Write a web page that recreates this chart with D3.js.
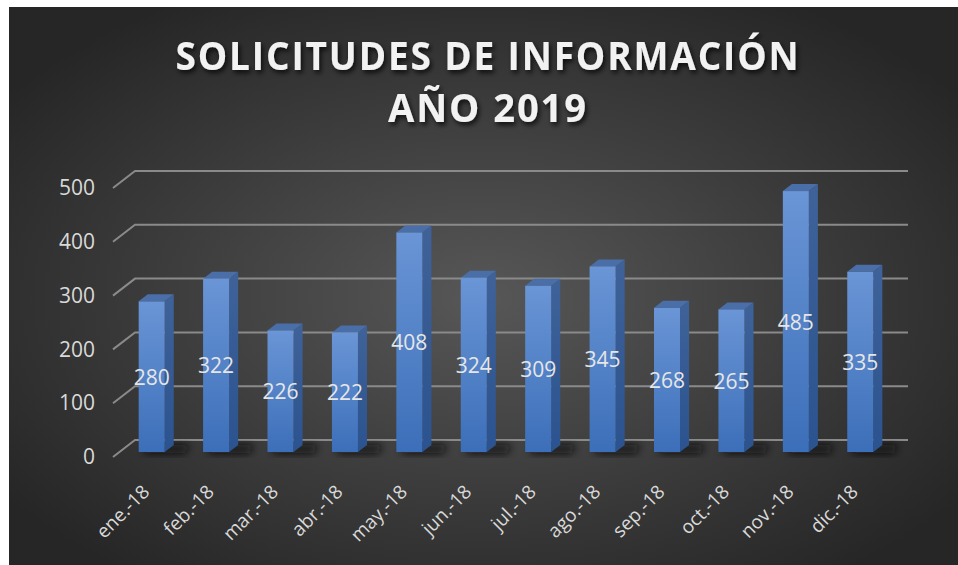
<!DOCTYPE html>
<html>
<head>
<meta charset="utf-8">
<script src="https://cdn.jsdelivr.net/npm/d3@7/dist/d3.min.js"></script>
<style>
  html, body { margin: 0; padding: 0; background: #fff; }
  svg { display: block; }
</style>
</head>
<body>
<svg id="chart"></svg>
<script>
// data
const months = ["ene.-18", "feb.-18", "mar.-18", "abr.-18", "may.-18", "jun.-18",
  "jul.-18", "ago.-18", "sep.-18", "oct.-18", "nov.-18", "dic.-18"];
const values = [280, 322, 226, 222, 408, 324, 309, 345, 268, 265, 485, 335];
const yTicks = [0, 100, 200, 300, 400, 500];
const titleLines = ["SOLICITUDES DE INFORMACIÓN", "AÑO 2019"];

const W = 958, H = 565;
const svg = d3.select("#chart").attr("width", W).attr("height", H);
const defs = svg.append("defs");

// oblique "3D": full depth vector from back wall to front edge
const DX = -22, DY = 17;
const dFront = 0.706, dBack = 0.294; // bar faces, as fraction of full depth

// back wall scales
const x = d3.scaleBand().domain(months).range([135, 908]);
const y = d3.scaleLinear().domain([0, 500]).range([440, 171]);
// band scale on the bars' front plane (for the category axis)
const xFront = d3.scaleBand().domain(months).range([135 + DX * dFront, 908 + DX * dFront]);

const barW = 26;

function P(px, v, d) {
  return [px + DX * d, y(v) + DY * d];
}

// background
const bg = defs.append("radialGradient").attr("id", "bg")
  .attr("cx", "50%").attr("cy", "52%").attr("r", "62%");
bg.append("stop").attr("offset", "0%").attr("stop-color", "#575757");
bg.append("stop").attr("offset", "100%").attr("stop-color", "#262626");
svg.append("rect").attr("x", 9).attr("y", 7).attr("width", W - 9).attr("height", H - 7)
  .attr("fill", "url(#bg)");

const front = defs.append("linearGradient").attr("id", "front")
  .attr("x1", 0).attr("y1", 0).attr("x2", 0).attr("y2", 1);
front.append("stop").attr("offset", "0%").attr("stop-color", "#6a95d6");
front.append("stop").attr("offset", "100%").attr("stop-color", "#3c6fb9");

const side = defs.append("linearGradient").attr("id", "side")
  .attr("x1", 0).attr("y1", 0).attr("x2", 0).attr("y2", 1);
side.append("stop").attr("offset", "0%").attr("stop-color", "#3f6299");
side.append("stop").attr("offset", "100%").attr("stop-color", "#2b538f");

defs.append("filter").attr("id", "blur").attr("x", "-50%").attr("y", "-50%")
  .attr("width", "200%").attr("height", "200%")
  .append("feGaussianBlur").attr("stdDeviation", 4);

const ts = defs.append("filter").attr("id", "tshadow").attr("x", "-10%").attr("y", "-30%")
  .attr("width", "120%").attr("height", "160%");
ts.append("feDropShadow").attr("dx", 2).attr("dy", 3).attr("stdDeviation", 2.5)
  .attr("flood-color", "#000").attr("flood-opacity", 0.75);

// gridlines: back wall + left wall diagonal
const grid = svg.append("g").attr("stroke", "#8a8a8a").attr("stroke-width", 2).attr("fill", "none");
grid.selectAll("path").data(yTicks).join("path")
  .attr("d", v => {
    const a = P(135, v, 1), b = P(135, v, 0), c = P(908, v, 0);
    return "M" + a + "L" + b + "L" + c;
  });

// shadow on the floor under each bar
svg.append("g").attr("filter", "url(#blur)")
  .selectAll("path").data(months).join("path")
  .attr("fill", "#111").attr("opacity", 0.9)
  .attr("d", m => {
    const cx = x(m) + x.bandwidth() / 2;
    const a = P(cx - barW / 2 + 6, 0, dFront + 0.08), b = P(cx + barW / 2 + 22, 0, dFront + 0.08);
    const c = P(cx + barW / 2 + 16, 0, dBack), e = P(cx - barW / 2, 0, dBack);
    return "M" + a + "L" + b + "L" + c + "L" + e + "Z";
  });

// bars
const bars = svg.append("g").selectAll("g").data(months).join("g");
bars.each(function (m, i) {
  const g = d3.select(this);
  const v = values[i];
  const cx = x(m) + x.bandwidth() / 2;
  const l = cx - barW / 2, r = cx + barW / 2;
  const fl0 = P(l, 0, dFront), fr0 = P(r, 0, dFront), fl1 = P(l, v, dFront), fr1 = P(r, v, dFront);
  const br0 = P(r, 0, dBack), bl1 = P(l, v, dBack), br1 = P(r, v, dBack);
  g.append("path").attr("fill", "url(#side)")
    .attr("d", "M" + fr0 + "L" + br0 + "L" + br1 + "L" + fr1 + "Z");
  g.append("path").attr("fill", "#4a6ea7")
    .attr("d", "M" + fl1 + "L" + fr1 + "L" + br1 + "L" + bl1 + "Z");
  g.append("rect").attr("fill", "url(#front)")
    .attr("x", fl1[0]).attr("y", fl1[1]).attr("width", barW).attr("height", fl0[1] - fl1[1]);
  g.append("text")
    .attr("x", cx + DX * dFront).attr("y", (fl0[1] + fl1[1]) / 2)
    .attr("text-anchor", "middle").attr("dominant-baseline", "central")
    .attr("font-family", "'Open Sans', sans-serif").attr("font-size", 21)
    .attr("fill", "#e6e6e6").text(v);
});

// value axis on the front edge
const yAxis = svg.append("g")
  .attr("transform", "translate(" + (135 + DX) + "," + DY + ")")
  .call(d3.axisLeft(y).tickValues(yTicks).tickSize(0).tickPadding(18));
yAxis.select(".domain").remove();
yAxis.selectAll("text")
  .attr("font-family", "'Open Sans', sans-serif").attr("font-size", 21)
  .attr("fill", "#d9d9d9");

// category axis
const xAxis = svg.append("g")
  .attr("transform", "translate(0,472)")
  .call(d3.axisBottom(xFront).tickSize(0));
xAxis.select(".domain").remove();
xAxis.selectAll("text")
  .attr("font-family", "'Open Sans', sans-serif").attr("font-size", 19)
  .attr("fill", "#d9d9d9")
  .attr("text-anchor", "end")
  .attr("x", 0).attr("y", 0).attr("dy", 0)
  .attr("transform", "translate(-1,21) rotate(-45)");

// title
svg.append("g").attr("filter", "url(#tshadow)")
  .selectAll("text").data(titleLines).join("text")
  .attr("x", 488).attr("y", (d, i) => 70 + i * 52)
  .attr("text-anchor", "middle")
  .attr("font-family", "'Open Sans', sans-serif").attr("font-weight", 700)
  .attr("font-size", 40).attr("letter-spacing", 2)
  .attr("fill", "#f2f2f2")
  .attr("textLength", (d, i) => i === 0 ? 625 : 200)
  .attr("lengthAdjust", "spacingAndGlyphs")
  .text(d => d);
</script>
</body>
</html>
